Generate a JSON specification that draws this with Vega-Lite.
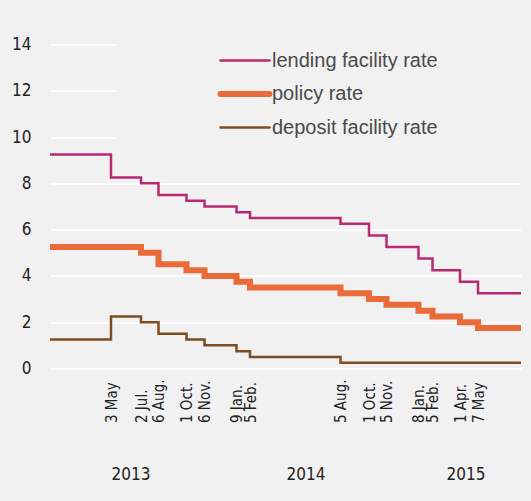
{
  "$schema": "https://vega.github.io/schema/vega-lite/v6.json",
  "width": 471,
  "height": 324,
  "autosize": {"type": "none"},
  "padding": {"left": 50, "top": 44.5, "right": 10, "bottom": 132.5},
  "background": "#f1f1f1",
  "config": {"view": {"stroke": null}, "font": "DejaVu Sans Condensed, Roboto, sans-serif"},
  "data": {
    "values": [
      {"date": "2013-01-01", "series": "lending facility rate", "rate": 9.25},
      {"date": "2013-05-03", "series": "lending facility rate", "rate": 8.25},
      {"date": "2013-07-02", "series": "lending facility rate", "rate": 8.0},
      {"date": "2013-08-06", "series": "lending facility rate", "rate": 7.5},
      {"date": "2013-10-01", "series": "lending facility rate", "rate": 7.25},
      {"date": "2013-11-06", "series": "lending facility rate", "rate": 7.0},
      {"date": "2014-01-09", "series": "lending facility rate", "rate": 6.75},
      {"date": "2014-02-05", "series": "lending facility rate", "rate": 6.5},
      {"date": "2014-08-05", "series": "lending facility rate", "rate": 6.25},
      {"date": "2014-10-01", "series": "lending facility rate", "rate": 5.75},
      {"date": "2014-11-05", "series": "lending facility rate", "rate": 5.25},
      {"date": "2015-01-08", "series": "lending facility rate", "rate": 4.75},
      {"date": "2015-02-05", "series": "lending facility rate", "rate": 4.25},
      {"date": "2015-04-01", "series": "lending facility rate", "rate": 3.75},
      {"date": "2015-05-07", "series": "lending facility rate", "rate": 3.25},
      {"date": "2015-08-01", "series": "lending facility rate", "rate": 3.25},
      {"date": "2013-01-01", "series": "policy rate", "rate": 5.25},
      {"date": "2013-05-03", "series": "policy rate", "rate": 5.25},
      {"date": "2013-07-02", "series": "policy rate", "rate": 5.0},
      {"date": "2013-08-06", "series": "policy rate", "rate": 4.5},
      {"date": "2013-10-01", "series": "policy rate", "rate": 4.25},
      {"date": "2013-11-06", "series": "policy rate", "rate": 4.0},
      {"date": "2014-01-09", "series": "policy rate", "rate": 3.75},
      {"date": "2014-02-05", "series": "policy rate", "rate": 3.5},
      {"date": "2014-08-05", "series": "policy rate", "rate": 3.25},
      {"date": "2014-10-01", "series": "policy rate", "rate": 3.0},
      {"date": "2014-11-05", "series": "policy rate", "rate": 2.75},
      {"date": "2015-01-08", "series": "policy rate", "rate": 2.5},
      {"date": "2015-02-05", "series": "policy rate", "rate": 2.25},
      {"date": "2015-04-01", "series": "policy rate", "rate": 2.0},
      {"date": "2015-05-07", "series": "policy rate", "rate": 1.75},
      {"date": "2015-08-01", "series": "policy rate", "rate": 1.75},
      {"date": "2013-01-01", "series": "deposit facility rate", "rate": 1.25},
      {"date": "2013-05-03", "series": "deposit facility rate", "rate": 2.25},
      {"date": "2013-07-02", "series": "deposit facility rate", "rate": 2.0},
      {"date": "2013-08-06", "series": "deposit facility rate", "rate": 1.5},
      {"date": "2013-10-01", "series": "deposit facility rate", "rate": 1.25},
      {"date": "2013-11-06", "series": "deposit facility rate", "rate": 1.0},
      {"date": "2014-01-09", "series": "deposit facility rate", "rate": 0.75},
      {"date": "2014-02-05", "series": "deposit facility rate", "rate": 0.5},
      {"date": "2014-08-05", "series": "deposit facility rate", "rate": 0.25},
      {"date": "2014-10-01", "series": "deposit facility rate", "rate": 0.25},
      {"date": "2014-11-05", "series": "deposit facility rate", "rate": 0.25},
      {"date": "2015-01-08", "series": "deposit facility rate", "rate": 0.25},
      {"date": "2015-02-05", "series": "deposit facility rate", "rate": 0.25},
      {"date": "2015-04-01", "series": "deposit facility rate", "rate": 0.25},
      {"date": "2015-05-07", "series": "deposit facility rate", "rate": 0.25},
      {"date": "2015-08-01", "series": "deposit facility rate", "rate": 0.25}
    ]
  },
  "layer": [
    {
      "mark": {"type": "line", "interpolate": "step-after", "strokeJoin": "miter"},
      "encoding": {
        "x": {
          "field": "date",
          "type": "temporal",
          "scale": {"domain": [{"year": 2013, "month": 1, "date": 1}, {"year": 2015, "month": 8, "date": 1}]},
          "axis": {
            "values": [
              {"year": 2013, "month": 5, "date": 3},
              {"year": 2013, "month": 7, "date": 2},
              {"year": 2013, "month": 8, "date": 6},
              {"year": 2013, "month": 10, "date": 1},
              {"year": 2013, "month": 11, "date": 6},
              {"year": 2014, "month": 1, "date": 9},
              {"year": 2014, "month": 2, "date": 5},
              {"year": 2014, "month": 8, "date": 5},
              {"year": 2014, "month": 10, "date": 1},
              {"year": 2014, "month": 11, "date": 5},
              {"year": 2015, "month": 1, "date": 8},
              {"year": 2015, "month": 2, "date": 5},
              {"year": 2015, "month": 4, "date": 1},
              {"year": 2015, "month": 5, "date": 7}
            ],
            "labelExpr": "timeFormat(datum.value, '%-d %b') + (month(datum.value) == 4 ? '' : '.')",
            "labelAngle": -90,
            "labelAlign": "left",
            "labelBaseline": "middle",
            "labelPadding": 54,
            "ticks": false,
            "tickSize": 0,
            "domain": false,
            "grid": false,
            "title": null,
            "labelFontSize": 15,
            "labelColor": "#222222",
            "labelOverlap": false,
            "labelFlush": false,
            "labelBound": false
          }
        },
        "y": {
          "field": "rate",
          "type": "quantitative",
          "scale": {"domain": [0, 14], "nice": false},
          "axis": {
            "values": [0, 2, 4, 6, 8, 10, 12, 14],
            "domain": false,
            "ticks": false,
            "tickSize": 0,
            "labelPadding": 19,
            "gridColor": "#ffffff",
            "gridWidth": 1.5,
            "gridDash": {"condition": {"test": "datum.value >= 10", "value": [66, 1000]}, "value": []},
            "title": null,
            "labelFontSize": 17,
            "labelColor": "#222222"
          }
        },
        "color": {
          "field": "series",
          "type": "nominal",
          "scale": {
            "domain": ["lending facility rate", "policy rate", "deposit facility rate"],
            "range": ["#b72a72", "#ea6b3a", "#7e4c22"]
          },
          "legend": {
            "title": null,
            "orient": "none",
            "legendX": 185,
            "legendY": 6,
            "symbolType": "stroke",
            "symbolSize": 2401,
            "symbolStrokeWidth": 2.5,
            "labelFont": "Liberation Sans",
            "labelFontSize": 20,
            "labelColor": "#4a4a4a",
            "labelOffset": 17,
            "labelLimit": 400,
            "rowPadding": 11.5,
            "padding": 0,
            "encode": {
              "symbols": {
                "update": {
                  "strokeWidth": {"signal": "datum.value === 'policy rate' ? 6 : 2.5"},
                  "strokeCap": {"value": "round"}
                }
              }
            }
          }
        },
        "strokeWidth": {"condition": {"test": "datum.series === 'policy rate'", "value": 6}, "value": 2.5}
      }
    },
    {
      "mark": {"type": "rule", "opacity": 0},
      "encoding": {
        "x": {
          "field": "date",
          "type": "temporal",
          "axis": {
            "orient": "bottom",
            "values": [
              {"year": 2013, "month": 6, "date": 11},
              {"year": 2014, "month": 5, "date": 27},
              {"year": 2015, "month": 4, "date": 12}
            ],
            "labelExpr": "timeFormat(datum.value, '%Y')",
            "offset": 98,
            "labelPadding": 0,
            "ticks": false,
            "tickSize": 0,
            "domain": false,
            "grid": false,
            "title": null,
            "labelFontSize": 17,
            "labelColor": "#222222",
            "labelAngle": 0,
            "labelBaseline": "top",
            "labelOverlap": false,
            "labelFlush": false
          }
        }
      }
    }
  ],
  "resolve": {"axis": {"x": "independent"}}
}
